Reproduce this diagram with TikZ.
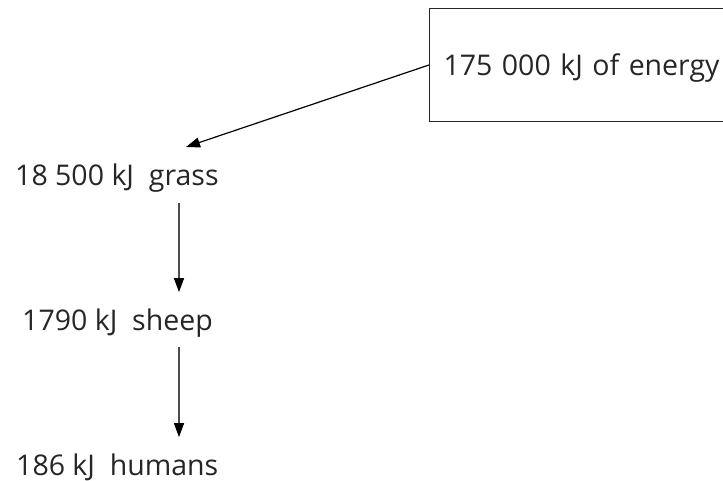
\documentclass[tikz,border=0pt]{standalone}
\usepackage{fontspec}
\setmainfont{Open Sans}
\usetikzlibrary{arrows.meta}
\tikzset{
 lbl/.style={font=\fontsize{28.5}{34}\selectfont, inner sep=0pt, text=black!85},
 box/.style={draw=black!85, line width=1pt, inner xsep=14pt, anchor=north west, minimum width=400pt, minimum height=113pt, text width=372pt, text depth=0pt, align=left, font=\fontsize{28.5}{34}\selectfont, text=black!85},
 flow/.style={draw=black!70, line width=1.2pt, -{Triangle[length=14pt,width=10pt,black]}},
}
\begin{document}
\begin{tikzpicture}[x=1pt,y=1pt]
 \useasboundingbox (0,0) rectangle (723,-481);
 \clip (0,0) rectangle (723,-481);
 \node[box] (energy) at (429,-8) {175 000 kJ of energy};
 \node[lbl, anchor=base west] (grass) at (15,-186) {18 500 kJ~ grass};
 \node[lbl, anchor=base west] (sheep) at (22,-330) {1790 kJ~ sheep};
 \node[lbl, anchor=base west] (humans) at (16,-475) {186 kJ~ humans};
 \coordinate (col) at (179,0);
 \coordinate (tip) at (186,-147);
 \draw[flow, draw=black] (energy.west) -- (tip);
 \draw[flow] ([yshift=-10pt]grass.south -| col) -- ([yshift=16pt]sheep.north -| col);
 \draw[flow] ([yshift=-10pt]sheep.south -| col) -- ([yshift=16pt]humans.north -| col);
\end{tikzpicture}
\end{document}
